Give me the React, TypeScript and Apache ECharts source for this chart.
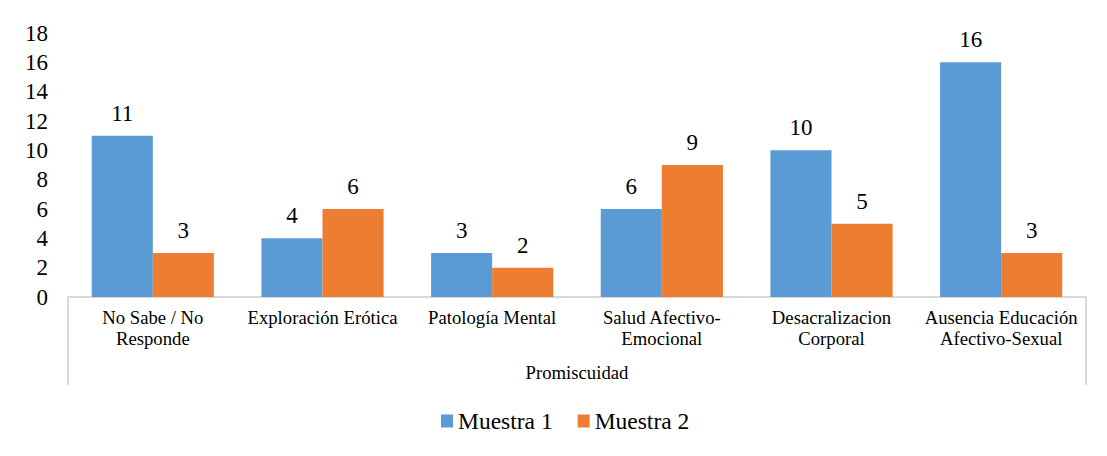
import React, { useEffect, useRef } from "react";
import * as echarts from "echarts";

const categories = [
  "No Sabe / No\nResponde",
  "Exploración Erótica",
  "Patología Mental",
  "Salud Afectivo-\nEmocional",
  "Desacralizacion\nCorporal",
  "Ausencia Educación\nAfectivo-Sexual",
];
const muestra1 = [11, 4, 3, 6, 10, 16];
const muestra2 = [3, 6, 2, 9, 5, 3];
const groupLabel = ["Promiscuidad"];
const seriesNames = ["Muestra 1", "Muestra 2"];

const FONT = "Liberation Serif";

export default function App() {
  const ref = useRef<HTMLDivElement>(null);
  useEffect(() => {
    if (!ref.current) return;
    const chart = echarts.init(ref.current, undefined, { renderer: "svg" });
    const dataLabel = {
      show: true,
      position: "top",
      distance: 11,
      fontFamily: FONT,
      fontSize: 23,
      color: "#000",
    };
    chart.setOption({
      animation: false,
      textStyle: { fontFamily: FONT },
      grid: [
        { left: 68, right: 21, top: 33, bottom: 159, containLabel: false },
        {
          left: 6,
          top: 5,
          width: 1110,
          height: 470,
          show: true,
          borderColor: "#d0d0d0",
          borderWidth: 2,
          backgroundColor: "transparent",
          z: 0,
        },
      ],
      legend: {
        data: seriesNames,
        top: 404,
        left: 436,
        itemWidth: 12,
        itemHeight: 13,
        itemGap: 25,
        icon: "rect",
        textStyle: { fontFamily: FONT, fontSize: 23.5, color: "#000" },
      },
      xAxis: [
        {
          type: "category",
          data: categories,
          axisLine: { lineStyle: { color: "#d9d9d9", width: 2 } },
          axisTick: { show: false },
          axisLabel: {
            fontFamily: FONT,
            fontSize: 18.7,
            color: "#000",
            interval: 0,
            margin: 10,
            lineHeight: 21,
          },
        },
        {
          type: "category",
          position: "bottom",
          data: groupLabel,
          axisLine: { show: false },
          axisTick: { show: true, length: 88, lineStyle: { color: "#d9d9d9", width: 2 } },
          axisLabel: { fontFamily: FONT, fontSize: 18.7, color: "#000", margin: 66 },
        },
        {
          type: "value",
          gridIndex: 1,
          show: false,
          min: 0,
          max: 1,
        },
      ],
      yAxis: [
        {
          type: "value",
          min: 0,
          max: 18,
          interval: 2,
          axisLine: { show: false },
          axisTick: { show: false },
          splitLine: { show: false },
          axisLabel: { fontFamily: FONT, fontSize: 23, color: "#000", margin: 20 },
        },
        {
          type: "value",
          gridIndex: 1,
          show: false,
          min: 0,
          max: 1,
        },
      ],
      series: [
        {
          name: seriesNames[0],
          type: "bar",
          data: muestra1,
          xAxisIndex: 0,
          yAxisIndex: 0,
          barGap: "0%",
          barCategoryGap: "28%",
          itemStyle: { color: "#5b9bd5" },
          label: dataLabel,
        },
        {
          name: seriesNames[1],
          type: "bar",
          data: muestra2,
          xAxisIndex: 0,
          yAxisIndex: 0,
          barGap: "0%",
          barCategoryGap: "28%",
          itemStyle: { color: "#ed7d31" },
          label: dataLabel,
        },
      ],
    });
    return () => chart.dispose();
  }, []);
  return <div ref={ref} style={{ width: 1107, height: 456, margin: -8 }} />;
}
